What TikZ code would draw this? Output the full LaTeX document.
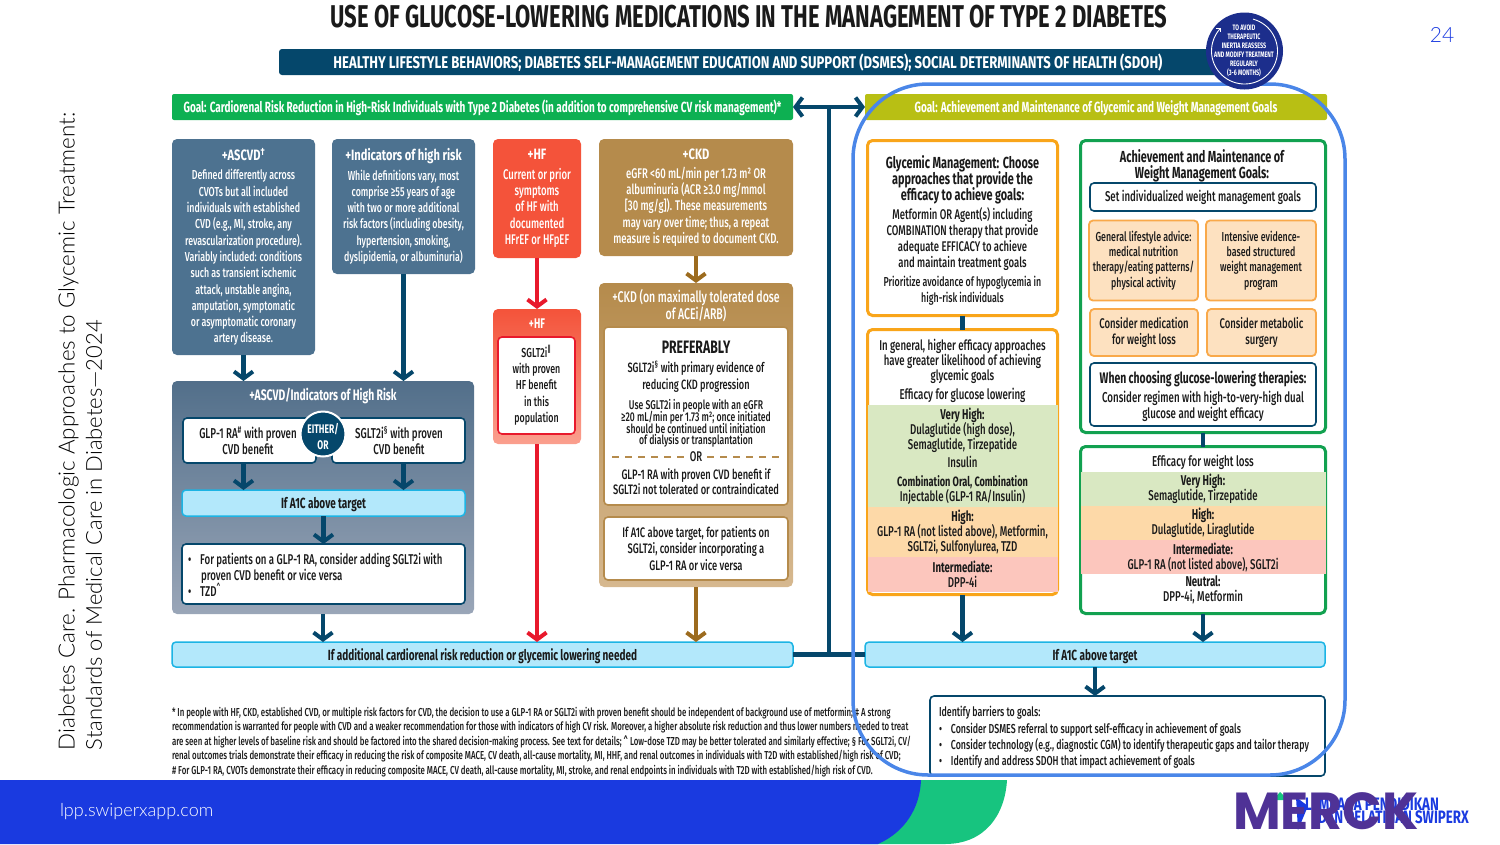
\documentclass[tikz,border=0pt]{standalone}
\usepackage{fontspec}
\usetikzlibrary{arrows.meta,positioning}
\setlength{\lineskiplimit}{-10pt}
\newfontfamily\din[FakeStretch=0.68,BoldFont={Fira Sans Bold}]{Fira Sans Medium}
\newfontfamily\headfont[FakeStretch=0.74]{Fira Sans Bold}
\newfontfamily\titlefont[FakeStretch=0.70]{Fira Sans Bold}
\newfontfamily\barfont[FakeStretch=0.77]{Fira Sans Bold}
\newfontfamily\slidefont{Lato Light}
\newfontfamily\logofont{Poppins Bold}
\newcommand{\bodyfont}{\din\fontsize{13}{16.3}\selectfont}
\newcommand{\bigbodyfont}{\din\fontsize{14}{16.3}\selectfont}
\newcommand{\listfont}{\din\fontsize{14.2}{15}\selectfont}
\newcommand{\smallfont}{\din\fontsize{12.7}{11.7}\selectfont}
\newcommand{\headline}{\headfont\fontsize{15}{16}\selectfont}
\newcommand{\strongline}[1]{{\din\fontsize{16}{15.5}\selectfont\bfseries #1}}
\definecolor{deepteal}{HTML}{05476B}
\definecolor{slateblue}{HTML}{4D7290}
\definecolor{slatepale}{HTML}{9AA6B8}
\definecolor{slatetop}{HTML}{526F8A}
\definecolor{goalgreen}{HTML}{0DB052}
\definecolor{goalolive}{HTML}{B8BF14}
\definecolor{hfred}{HTML}{F4533A}
\definecolor{hfpale}{HTML}{FA9F8E}
\definecolor{arrowred}{HTML}{E8192C}
\definecolor{ckdbrown}{HTML}{B58B4C}
\definecolor{ckdpale}{HTML}{D6B88F}
\definecolor{arrowbrown}{HTML}{9C6B1E}
\definecolor{skyfill}{HTML}{B3E8FB}
\definecolor{skyline}{HTML}{1CB4E4}
\definecolor{amber}{HTML}{F9A51A}
\definecolor{leaf}{HTML}{12A150}
\definecolor{peach}{HTML}{FDE1C0}
\definecolor{peachline}{HTML}{F9A94A}
\definecolor{bandgreen}{HTML}{D9E8C2}
\definecolor{bandorange}{HTML}{FDD9A8}
\definecolor{bandpink}{HTML}{FCC6BD}
\definecolor{focusblue}{HTML}{4A86E8}
\definecolor{navyring}{HTML}{1C2E8C}
\definecolor{footblue}{HTML}{1A3AE0}
\definecolor{footgreen}{HTML}{17C47F}
\definecolor{logopurple}{HTML}{4F3296}
\definecolor{inktext}{HTML}{1A1A1A}
\tikzset{
  wh/.style 2 args={minimum width=#1pt, minimum height=#2pt},
  bare/.style={inner sep=0pt, outer sep=0pt, align=center, font=\bodyfont, text=inktext},
  card/.style={bare, rounded corners=5pt, text=white},
  lowtext/.style={text height=11pt, text depth=0pt},
  goalbar/.style={card, lowtext, font=\din\fontsize{14.7}{16}\selectfont\bfseries, rounded corners=2pt},
  whitebox/.style={bare, rounded corners=4pt, fill=white, draw=deepteal, line width=1.6pt},
  skybox/.style={bare, lowtext, rounded corners=4pt, fill=skyfill, draw=skyline, line width=1.5pt, font=\din\fontsize{14.7}{16}\selectfont\bfseries},
  amberbox/.style={bare, rounded corners=5pt, fill=white, draw=amber, line width=3pt},
  leafbox/.style={bare, rounded corners=5pt, fill=white, draw=leaf, line width=3pt},
  band/.style={bare, inner sep=0pt, font=\listfont},
  peachbox/.style={bare, rounded corners=4pt, fill=peach, draw=peachline, line width=1.8pt, font=\din\fontsize{13}{15.3}\selectfont},
  flow/.style={line width=4.5pt, color=deepteal, -{Straight Barb[length=7pt, width=19pt, line width=4pt]}},
  redflow/.style={flow, color=arrowred},
  brownflow/.style={flow, color=arrowbrown},
  stub/.style={line width=4.5pt, color=deepteal},
  ordash/.style={draw=ckdbrown, line width=1.2pt, dash pattern=on 7pt off 6pt},
  slidetext/.style={bare, font=\slidefont\fontsize{22.2}{24}\selectfont, text=black, rotate=90, anchor=west}
}
\begin{document}
\begin{tikzpicture}[x=1pt, y=-1pt]
  \useasboundingbox (0, 0) rectangle (1500, 844);
  \fill [footgreen] (860, 780) -- (1007, 780) .. controls (1005, 815) and (985, 844) .. (945, 844) -- (860, 844) -- cycle;
  \fill [footblue] (0, 780) -- (921, 780) .. controls (920, 808) and (905, 832) .. (878, 844) -- (0, 844) -- cycle;
  \node [bare, anchor=west, text=white, font=\slidefont\fontsize{18}{20}\selectfont] (site) at (60, 811.5) {lpp.swiperxapp.com};
  \node [bare, text=footblue, font=\slidefont\fontsize{21}{24}\selectfont] (pageno) at (1442, 34.5) {24};
  \node [slidetext, font=\slidefont\fontsize{22.35}{24}\selectfont] (sideone) at (68.5, 750) {Diabetes Care. Pharmacologic Approaches to Glycemic Treatment:};
  \node [slidetext, font=\slidefont\fontsize{22}{24}\selectfont] (sidetwo) at (94, 750) {Standards of Medical Care in Diabetes—2024};

  \node [bare, font=\titlefont\fontsize{31.5}{34}\selectfont] (title) at (749, 17) {USE OF GLUCOSE-LOWERING MEDICATIONS IN THE MANAGEMENT OF TYPE 2 DIABETES};
  \node [card, fill=deepteal, wh={946}{26}, rounded corners=3pt] (lifestyle) at (752, 62) {};
  \node [bare, text=white, font=\barfont\fontsize{17}{18}\selectfont] (lifestyletext) at (748, 63) {HEALTHY LIFESTYLE BEHAVIORS; DIABETES SELF-MANAGEMENT EDUCATION AND SUPPORT (DSMES); SOCIAL DETERMINANTS OF HEALTH (SDOH)};

  \node [goalbar, fill=goalgreen, wh={621}{26}] (goalcardio) at (482.5, 107) {Goal: Cardiorenal Risk Reduction in High-Risk Individuals with Type 2 Diabetes (in addition to comprehensive CV risk management)*};
  \node [goalbar, fill=goalolive, wh={462}{26}] (goalglyc) at (1096, 107) {Goal: Achievement and Maintenance of Glycemic and Weight Management Goals};

  \node [card, fill=slateblue, wh={143}{216}] (ascvd) at (243.5, 247) {{\headline +ASCVD\textsuperscript{†}}\\[3pt]
    Defined differently across\\CVOTs but all included\\individuals with established\\CVD (e.g., MI, stroke, any\\revascularization procedure).\\Variably included: conditions\\such as transient ischemic\\attack, unstable angina,\\amputation, symptomatic\\or asymptomatic coronary\\artery disease.};
  \node [card, fill=slateblue, wh={143}{135}] (indicators) at (403.5, 206.5) {{\headline +Indicators of high risk}\\[3pt]
    While definitions vary, most\\comprise ≥55 years of age\\with two or more additional\\risk factors (including obesity,\\hypertension, smoking,\\dyslipidemia, or albuminuria)};
  \node [card, fill=hfred, wh={88}{119}, font=\bigbodyfont] (hf) at (537, 198.5) {{\headline +HF}\\[3pt]
    Current or prior\\symptoms\\of HF with\\documented\\HFrEF or HFpEF};
  \node [card, fill=ckdbrown, wh={194}{117}, font=\bigbodyfont] (ckd) at (696, 197.5) {{\headline +CKD}\\[3pt]
    eGFR <60 mL/min per 1.73 m² OR\\albuminuria (ACR ≥3.0 mg/mmol\\{[30 mg/g]}). These measurements\\may vary over time; thus, a repeat\\measure is required to document CKD.};

  \node [card, top color=slatetop, bottom color=slatepale, wh={302}{233}] (riskpanel) at (323, 497.5) {};
  \node [bare, text=white, font=\din\fontsize{15.2}{16}\selectfont\bfseries] (risktitle) at (323, 396) {+ASCVD/Indicators of High Risk};
  \node [whitebox, wh={133}{45}] (glp) at (249.5, 440.5) {};
  \node [bare, font=\din\fontsize{14.3}{16.3}\selectfont] (glptext) at (248, 440.5) {GLP-1 RA\textsuperscript{\#} with proven\\CVD benefit};
  \node [whitebox, wh={133}{45}] (sglt) at (398.5, 440.5) {};
  \node [bare, font=\din\fontsize{14.3}{16.3}\selectfont] (sglttext) at (399, 440.5) {SGLT2i\textsuperscript{§} with proven\\CVD benefit};
  \node [circle, bare, fill=deepteal, draw=white, line width=2pt, minimum size=45pt] (either) at (323, 434) {};
  \node [bare, text=white, font=\din\fontsize{12.5}{16}\selectfont\bfseries] (eithertext) at (323, 436) {EITHER/\\OR};
  \node [skybox, wh={283}{26}] (a1cleft) at (323.5, 503) {If A1C above target};
  \node [whitebox, wh={283}{60}] (addbox) at (323.5, 574) {};
  \node [bare, anchor=west, align=left, font=\din\fontsize{14.2}{16.3}\selectfont] (addtext) at (188, 575) {•\hspace{9pt}For patients on a GLP-1 RA, consider adding SGLT2i with\\\hspace{13pt}proven CVD benefit or vice versa\\•\hspace{9pt}TZD\textsuperscript{\string^}};

  \node [card, top color=hfred, middle color=hfred, bottom color=hfpale, wh={88}{135}] (hfpanel) at (537, 376.5) {};
  \node [bare, text=white, font=\din\fontsize{14}{16}\selectfont\bfseries] (hftitle) at (537, 324) {+HF};
  \node [whitebox, draw=arrowred, wh={77}{97}] (hfbox) at (536.5, 385.5) {SGLT2i\textsuperscript{‖}\\with proven\\HF benefit\\in this\\population};

  \node [card, top color=ckdbrown, middle color=ckdbrown, bottom color=ckdpale, wh={194}{304}] (ckdpanel) at (696, 435) {};
  \node [bare, text=white, font=\din\fontsize{15.5}{17}\selectfont] (ckdtitle) at (696, 306) {+CKD (on maximally tolerated dose\\of ACEi/ARB)};
  \node [whitebox, draw=ckdbrown, wh={184}{178}] (prefbox) at (696, 416) {};
  \node [bare, font=\din\fontsize{18}{18}\selectfont\bfseries] (prefhead) at (696, 347) {PREFERABLY};
  \node [bare, font=\din\fontsize{13.5}{16.3}\selectfont] (prefa) at (696, 376.5) {SGLT2i\textsuperscript{§} with primary evidence of\\reducing CKD progression};
  \node [bare, font=\smallfont] (prefb) at (696, 423.5) {Use SGLT2i in people with an eGFR\\≥20 mL/min per 1.73 m²; once initiated\\should be continued until initiation\\of dialysis or transplantation};
  \node [bare, font=\din\fontsize{14}{16}\selectfont] (orword) at (696, 457) {OR};
  \draw [ordash] ([xshift=8pt]prefbox.west |- orword.west) to ([xshift=-5pt]orword.west);
  \draw [ordash] ([xshift=5pt]orword.east) to ([xshift=-8pt]prefbox.east |- orword.east);
  \node [bare, font=\din\fontsize{13.7}{15}\selectfont] (prefc) at (696, 481.5) {GLP-1 RA with proven CVD benefit if\\SGLT2i not tolerated or contraindicated};
  \node [whitebox, draw=ckdbrown, wh={184}{63}, font=\din\fontsize{13.8}{16.3}\selectfont] (ckdnext) at (696, 548.5) {If A1C above target, for patients on\\SGLT2i, consider incorporating a\\GLP-1 RA or vice versa};

  \node [skybox, wh={621}{25}] (additional) at (482.5, 654.5) {If additional cardiorenal risk reduction or glycemic lowering needed};
  \node [skybox, wh={460}{25}] (a1cright) at (1095, 654.5) {If A1C above target};

  \node [amberbox, wh={190}{175}] (glycbox) at (962.5, 228) {};
  \node [bare, font=\din\fontsize{14}{16}\selectfont] (glyctext) at (962.5, 230) {\strongline{Glycemic Management: Choose}\\\strongline{approaches that provide the}\\\strongline{efficacy to achieve goals:}\\[3pt]
    Metformin OR Agent(s) including\\COMBINATION therapy that provide\\adequate EFFICACY to achieve\\and maintain treatment goals\\[3pt]
    {\fontsize{13}{16}\selectfont Prioritize avoidance of hypoglycemia in}\\{\fontsize{13}{16}\selectfont high-risk individuals}};
  \node [amberbox, wh={190}{265}] (glucbox) at (962.5, 462) {};
  \node [band, fill=bandgreen, wh={190}{102}] (gvery) at (962.5, 456) {{\bfseries Very High:}\\Dulaglutide (high dose),\\Semaglutide, Tirzepatide\\[3.5pt]Insulin\\[3.5pt]{\fontsize{13.5}{14}\selectfont\bfseries Combination Oral, Combination}\\Injectable (GLP-1 RA/Insulin)};
  \node [band, fill=bandorange, wh={190}{50}] (ghigh) at (962.5, 532) {{\bfseries High:}\\GLP-1 RA (not listed above), Metformin,\\SGLT2i, Sulfonylurea, TZD};
  \node [band, fill=bandpink, wh={190}{35}] (gmid) at (962.5, 574.5) {{\bfseries Intermediate:}\\DPP-4i};
  \node [bare, font=\listfont] (glucintro) at (962.5, 361) {In general, higher efficacy approaches\\have greater likelihood of achieving\\glycemic goals};
  \node [bare, font=\din\fontsize{14.3}{16}\selectfont] (gluchead) at (962.5, 395) {Efficacy for glucose lowering};

  \node [leafbox, wh={245}{292}] (weightbox) at (1203, 286.5) {};
  \node [bare, font=\din\fontsize{16}{15.5}\selectfont\bfseries] (weighthead) at (1202, 166) {Achievement and Maintenance of\\Weight Management Goals:};
  \node [whitebox, wh={226}{28}, font=\listfont] (setgoals) at (1203, 197) {Set individualized weight management goals};
  \node [peachbox, wh={109}{80}] (lifestyleadv) at (1143.5, 260.5) {General lifestyle advice:\\medical nutrition\\therapy/eating patterns/\\physical activity};
  \node [peachbox, wh={110}{80}] (intensive) at (1261, 260.5) {Intensive evidence-\\based structured\\weight management\\program};
  \node [peachbox, wh={108}{47}, font=\din\fontsize{14}{15.3}\selectfont] (considermed) at (1144, 332.5) {Consider medication\\for weight loss};
  \node [peachbox, wh={109}{47}, font=\din\fontsize{14}{15.3}\selectfont] (surgery) at (1261.5, 332.5) {Consider metabolic\\surgery};
  \node [whitebox, wh={226}{63}] (choosing) at (1203, 394.5) {};
  \node [bare, font=\din\fontsize{14.3}{16}\selectfont] (choosingtext) at (1203, 396) {{\din\fontsize{15.3}{16}\selectfont\bfseries When choosing glucose-lowering therapies:}\\[3pt]Consider regimen with high-to-very-high dual\\glucose and weight efficacy};

  \node [leafbox, wh={245}{167}] (lossbox) at (1203, 530) {};
  \node [band, fill=bandgreen, wh={245}{34}] (lvery) at (1203, 489) {{\bfseries Very High:}\\Semaglutide, Tirzepatide};
  \node [band, fill=bandorange, wh={245}{34}] (lhigh) at (1203, 523) {{\bfseries High:}\\Dulaglutide, Liraglutide};
  \node [band, fill=bandpink, wh={245}{34}] (lmid) at (1203, 557) {{\bfseries Intermediate:}\\GLP-1 RA (not listed above), SGLT2i};
  \node [bare, font=\listfont] (lneutral) at (1203, 590) {{\bfseries Neutral:}\\DPP-4i, Metformin};
  \node [bare, font=\din\fontsize{14.4}{16}\selectfont] (losshead) at (1203, 462) {Efficacy for weight loss};

  \node [whitebox, wh={395}{80}] (barriers) at (1127.5, 736) {};
  \node [bare, anchor=west, align=left] (barrierstext) at (939, 737.5) {Identify barriers to goals:\\•\hspace{9pt}Consider DSMES referral to support self-efficacy in achievement of goals\\•\hspace{9pt}Consider technology (e.g., diagnostic CGM) to identify therapeutic gaps and tailor therapy\\•\hspace{9pt}Identify and address SDOH that impact achievement of goals};

  \node [bare, anchor=north west, align=left, font=\din\fontsize{11.55}{14.5}\selectfont] (footnote) at (172, 707) {* In people with HF, CKD, established CVD, or multiple risk factors for CVD, the decision to use a GLP-1 RA or SGLT2i with proven benefit should be independent of background use of metformin; ‡ A strong\\recommendation is warranted for people with CVD and a weaker recommendation for those with indicators of high CV risk. Moreover, a higher absolute risk reduction and thus lower numbers needed to treat\\are seen at higher levels of baseline risk and should be factored into the shared decision-making process. See text for details; \string^ Low-dose TZD may be better tolerated and similarly effective; § For SGLT2i, CV/\\renal outcomes trials demonstrate their efficacy in reducing the risk of composite MACE, CV death, all-cause mortality, MI, HHF, and renal outcomes in individuals with T2D with established/high risk of CVD;\\\# For GLP-1 RA, CVOTs demonstrate their efficacy in reducing composite MACE, CV death, all-cause mortality, MI, stroke, and renal endpoints in individuals with T2D with established/high risk of CVD.};

  \coordinate (hub) at (829, 107);
  \draw [flow] (hub) to (goalcardio.east);
  \draw [flow] (hub) to (goalglyc.west);
  \draw [stub] (hub) to (hub |- additional.east);
  \draw [stub] (additional.east) to (a1cright.west);
  \draw [flow] (ascvd.south) to (ascvd.south |- riskpanel.north);
  \draw [flow] (indicators.south) to (indicators.south |- riskpanel.north);
  \draw [flow] (ascvd.south |- glp.south) to (ascvd.south |- a1cleft.north);
  \draw [flow] (indicators.south |- sglt.south) to (indicators.south |- a1cleft.north);
  \draw [flow] (a1cleft.south) to (addbox.north);
  \draw [flow] (riskpanel.south) to (riskpanel.south |- additional.north);
  \draw [redflow] (hf.south) to (hfpanel.north);
  \draw [redflow] (hfpanel.south) to (hfpanel.south |- additional.north);
  \draw [brownflow] (ckd.south) to (ckdpanel.north);
  \draw [brownflow] (ckdpanel.south) to (ckdpanel.south |- additional.north);
  \draw [stub] (glycbox.south) to (glucbox.north);
  \draw [stub] (weightbox.south) to (lossbox.north);
  \draw [flow] (glucbox.south) to (glucbox.south |- a1cright.north);
  \draw [flow] (lossbox.south) to (lossbox.south |- a1cright.north);
  \draw [flow] (a1cright.south) to (a1cright.south |- barriers.north);

  \node [bare, rounded corners=75pt, draw=focusblue, line width=3.5pt, wh={492}{691}] (focus) at (1099, 429.5) {};
  \node [circle, bare, fill=navyring, minimum size=77pt] (inertia) at (1244.5, 51) {};
  \node [circle, bare, minimum size=66pt] (ring) at (1244.5, 51) {};
  \draw [white, line width=0.9pt, -{Straight Barb[length=3pt, width=6pt]}] (ring.75) arc [start angle=75, delta angle=-300, radius=33pt];
  \node [bare, text=white, font=\din\fontsize{7.9}{8.9}\selectfont\bfseries] (inertiatext) at (1244, 51) {TO AVOID\\THERAPEUTIC\\INERTIA REASSESS\\AND MODIFY TREATMENT\\REGULARLY\\(3-6 MONTHS)};

  \node [bare, anchor=west, align=left, text=footblue, font=\headfont\fontsize{18}{13.5}\selectfont] (lembaga) at (1305, 811) {LEMBAGA PENDIDIKAN\\\hspace*{13pt}DAN PELATIHAN SWIPERX};
  \fill [footgreen] (1273, 800) -- (1280, 792) -- (1288, 800) -- cycle;
  \fill [footblue] (1296, 797) -- (1308, 806) -- (1298, 830) -- cycle;
  \node [bare, anchor=west, text=logopurple, font=\logofont\fontsize{52}{54}\selectfont] (merck) at (1233, 811) {MERCK};
\end{tikzpicture}
\end{document}
